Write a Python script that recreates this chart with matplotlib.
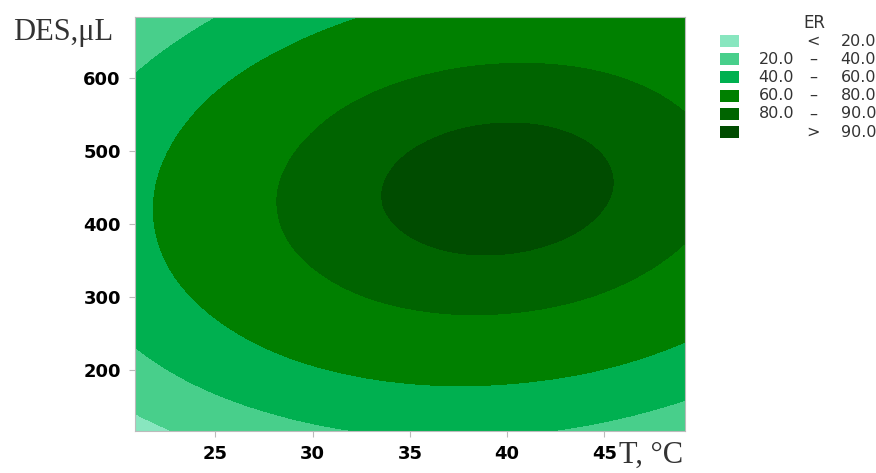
import numpy as np
import matplotlib
matplotlib.use("Agg")
import matplotlib.pyplot as plt
import matplotlib.tri as mtri
from matplotlib.patches import Rectangle

# grid (T in degC, DES volume in uL)
temps = [20.86, 24.39, 27.93, 31.46, 35.0, 38.54, 42.07, 45.61, 49.14]
des_vol = [117, 188, 259, 329, 400, 471, 541, 612, 683]

# ER estimated at each grid node, one row per DES level
er_117 = [13.7, 24.9, 33.5, 39.3, 42.3, 42.7, 40.3, 35.2, 27.4]
er_188 = [31.4, 43.1, 52.0, 58.1, 61.6, 62.3, 60.3, 55.6, 48.1]
er_259 = [44.4, 56.4, 65.7, 72.3, 76.1, 77.2, 75.6, 71.2, 64.2]
er_329 = [52.6, 65.0, 74.6, 81.5, 85.7, 87.2, 86.0, 82.0, 75.3]
er_400 = [56.2, 68.9, 79.0, 86.3, 90.8, 92.7, 91.8, 88.2, 81.9]
er_471 = [55.0, 68.2, 78.6, 86.2, 91.2, 93.4, 92.9, 89.7, 83.8]
er_541 = [49.3, 62.8, 73.5, 81.6, 86.9, 89.5, 89.4, 86.5, 80.9]
er_612 = [38.7, 52.6, 63.7, 72.1, 77.8, 80.8, 81.1, 78.6, 73.4]
er_683 = [23.4, 37.6, 49.2, 58.0, 64.0, 67.4, 68.0, 65.9, 61.1]

levels = [0, 20, 40, 60, 80, 90, 100]
colors = ["#88E6BF", "#48CF8B", "#00B050", "#008000", "#006400", "#004C00"]
labels = [("", "<", "20.0"), ("20.0", "–", "40.0"), ("40.0", "–", "60.0"),
          ("60.0", "–", "80.0"), ("80.0", "–", "90.0"), ("", ">", "90.0")]

xticks = [25, 30, 35, 40, 45]
yticks = [200, 300, 400, 500, 600]

Z = np.array([er_117, er_188, er_259, er_329, er_400,
              er_471, er_541, er_612, er_683])
TT, DD = np.meshgrid(temps, des_vol)

# smooth the contour lines with matplotlib's own triangulation refiner
tri = mtri.Triangulation(TT.ravel(), DD.ravel() / 20.0)
refiner = mtri.UniformTriRefiner(tri)
tri_f, z_f = refiner.refine_field(Z.ravel(), subdiv=3)
tri_f = mtri.Triangulation(tri_f.x, tri_f.y * 20.0, tri_f.triangles)

fig = plt.figure(figsize=(8.76, 4.73), dpi=100)
ax = fig.add_axes([0.1538, 0.0894, 0.6282, 0.874])
ax.tricontourf(tri_f, z_f, levels=levels, colors=colors)
ax.set_xlim(temps[0], temps[-1])
ax.set_ylim(des_vol[0], des_vol[-1])
ax.set_xticks(xticks)
ax.set_yticks(yticks)
ax.tick_params(colors="#BBBBBB", labelcolor="black", length=4, width=0.8,
               labelsize=13, pad=6)
for lab in ax.get_xticklabels() + ax.get_yticklabels():
    lab.set_fontweight("bold")
for s in ax.spines.values():
    s.set_color("#BBBBBB")
    s.set_linewidth(0.8)

fig.text(13 / 876, 1 - 40 / 473, "DES,μL", family="Liberation Serif",
         fontsize=22, color="#333333", va="baseline", ha="left")
fig.text(619 / 876, 1 - 463 / 473, "T, °C", family="Liberation Serif",
         fontsize=22, color="#333333", va="baseline", ha="left")

# legend drawn in pixel coordinates
lg = fig.add_axes([0, 0, 1, 1])
lg.set_xlim(0, 876)
lg.set_ylim(473, 0)
lg.axis("off")
lg.text(814, 23, "ER", fontsize=12, color="#333333", ha="center", va="center")
for i, (c, (a, d, b)) in enumerate(zip(colors, labels)):
    yc = 41 + i * 18.2
    lg.add_patch(Rectangle((720, yc - 6), 19, 12, color=c, lw=0))
    lg.text(794, yc, a, fontsize=11.5, color="#333333", ha="right", va="center")
    lg.text(813, yc, d, fontsize=11.5, color="#333333", ha="center", va="center")
    lg.text(876, yc, b, fontsize=11.5, color="#333333", ha="right", va="center")

fig.savefig("out.png", dpi=100)
